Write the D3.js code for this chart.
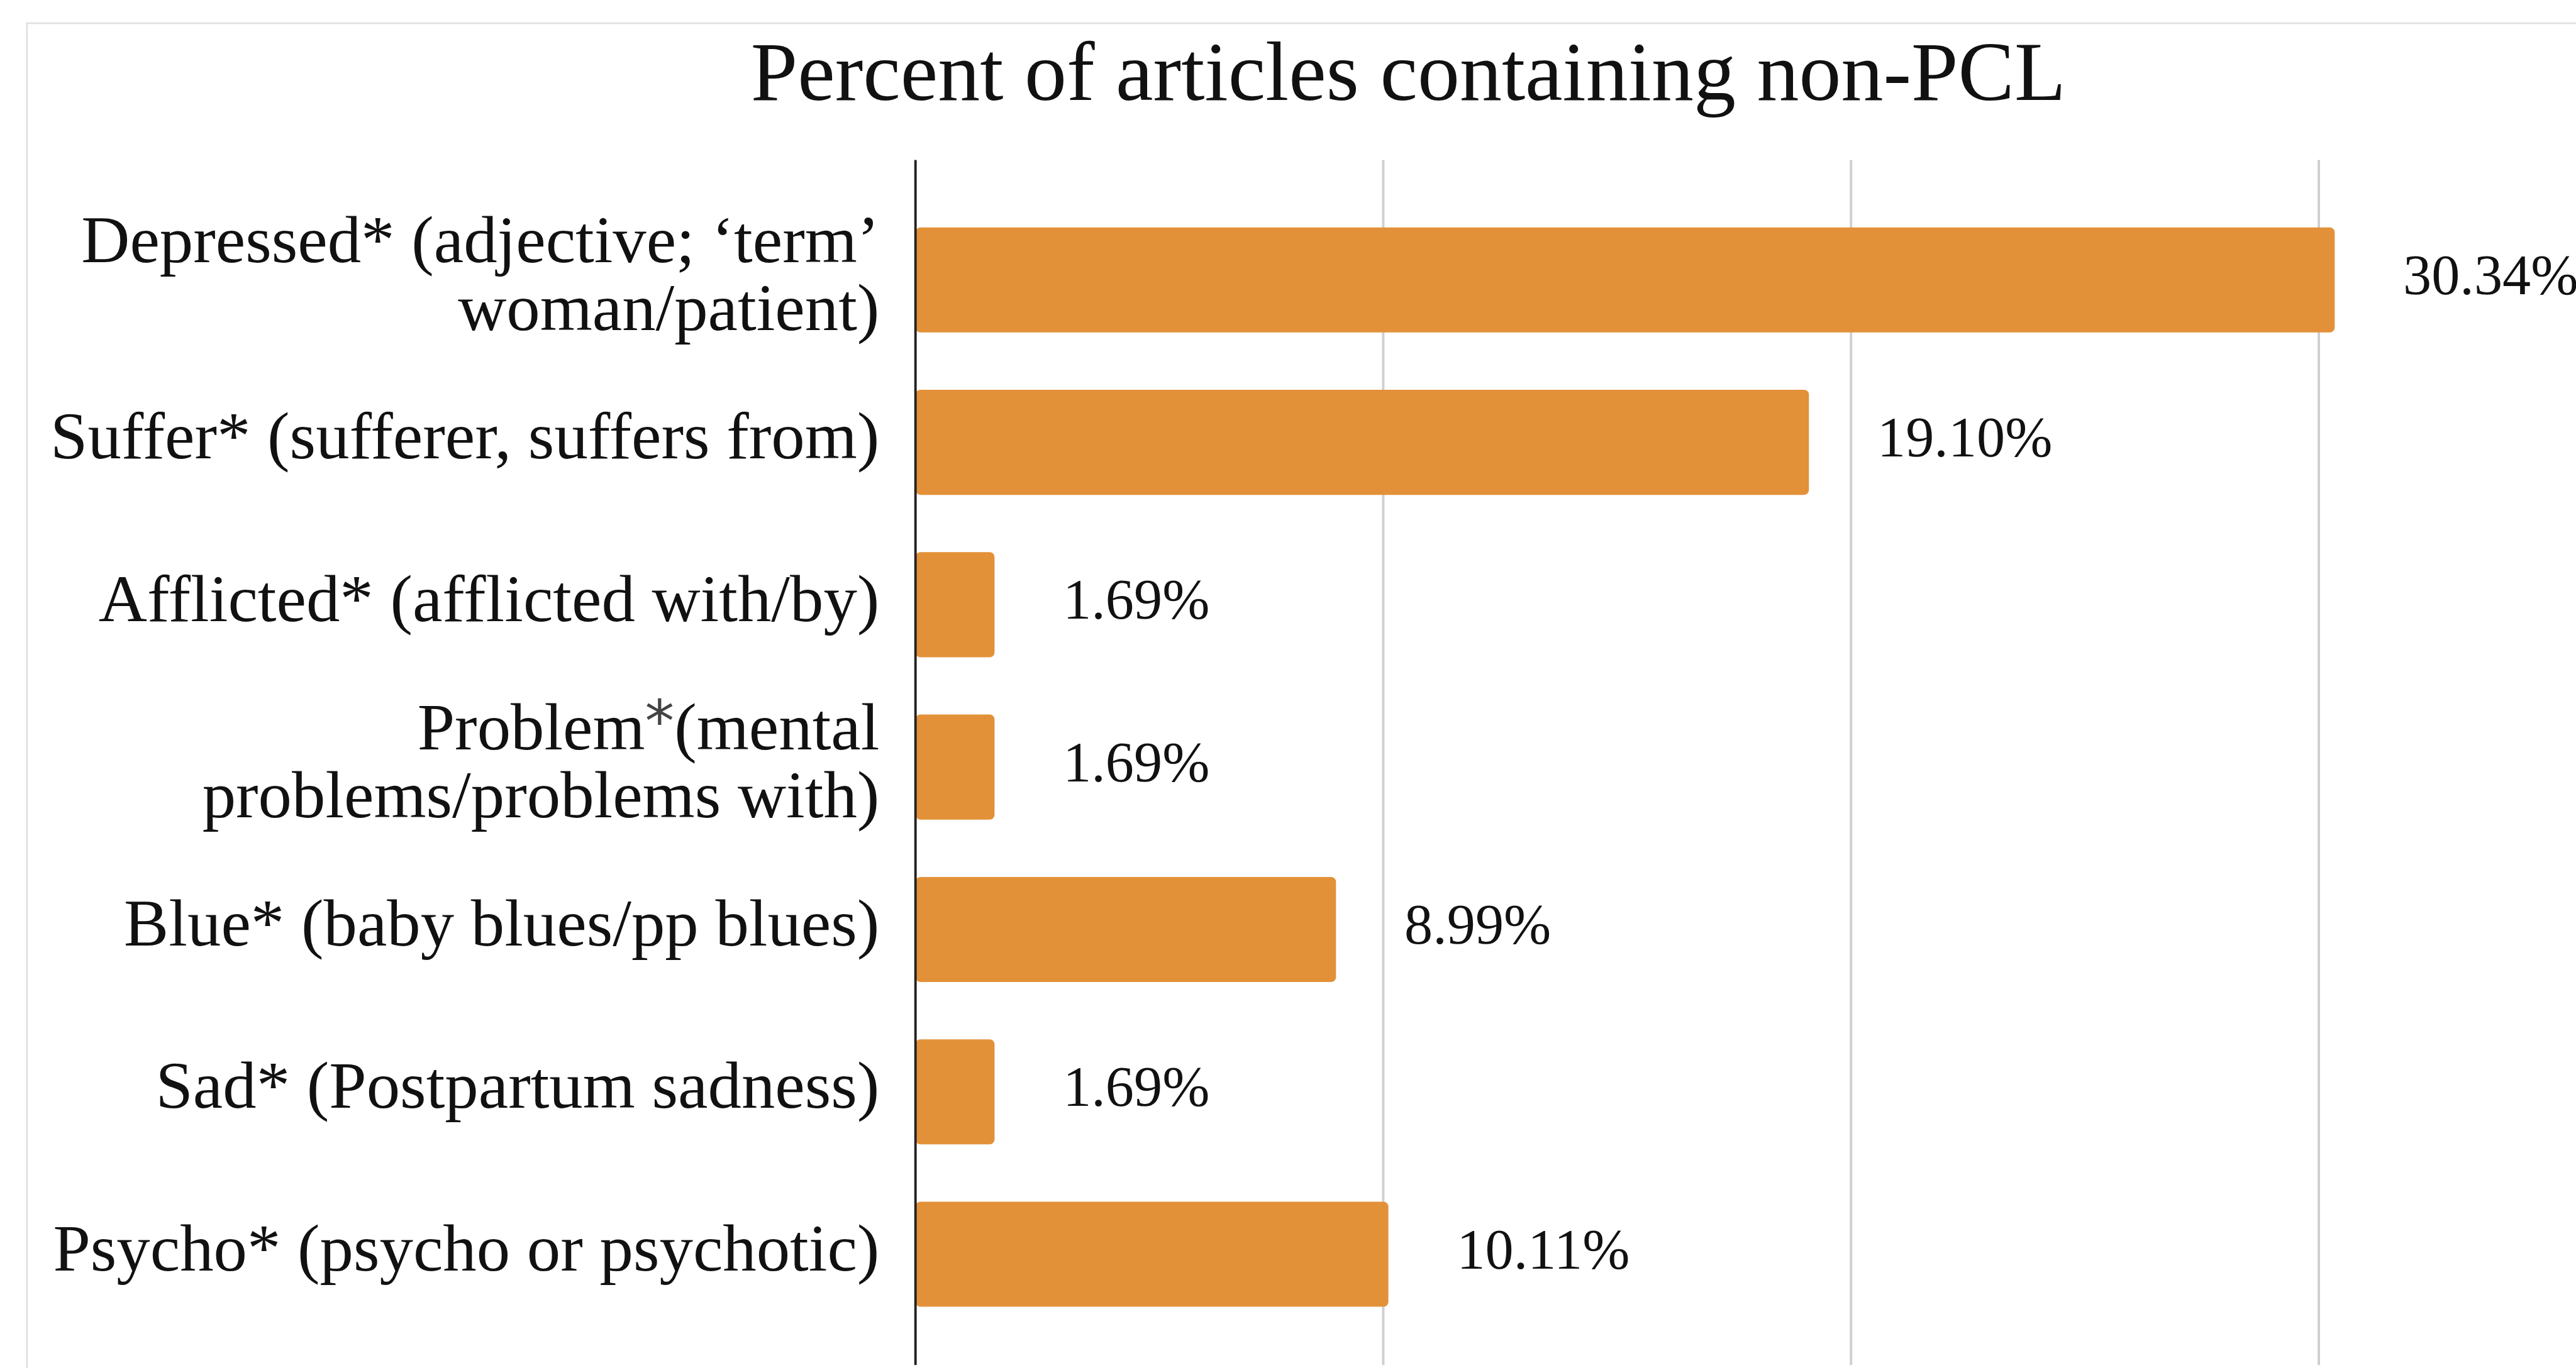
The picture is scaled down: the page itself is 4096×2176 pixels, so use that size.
<!DOCTYPE html>
<html>
<head>
<meta charset="utf-8">
<script src="https://cdn.jsdelivr.net/npm/d3@7"></script>
<style>
  html, body { margin:0; padding:0; background:#fff; overflow:hidden; }
  text { font-family: "Liberation Serif", "Times New Roman", serif; fill:#111; }
</style>
</head>
<body>
<div id="plot"></div>
<script>
// chart data
var title = 'Percent of articles containing non-PCL';
var categories = ['Depressed', 'Suffer', 'Afflicted', 'Problem', 'Blue', 'Sad', 'Psycho'];
var labelLines = [
  ['Depressed* (adjective; \u2018term\u2019', 'woman/patient)'],
  ['Suffer* (sufferer, suffers from)'],
  ['Afflicted* (afflicted with/by)'],
  ['Problem|*|(mental', 'problems/problems with)'],
  ['Blue* (baby blues/pp blues)'],
  ['Sad* (Postpartum sadness)'],
  ['Psycho* (psycho or psychotic)']
];
var values = [30.34, 19.10, 1.69, 1.69, 8.99, 1.69, 10.11];
var gridTicks = [10, 20, 30, 40];

// drawing set up in reference pixels, scaled by viewBox to the window
var W = 4218, H = 2241;
var svg = d3.select('#plot')
  .append('svg')
  .attr('width', 4096)
  .attr('height', 2176)
  .attr('viewBox', '0 0 ' + W + ' ' + H);

svg.append('rect').attr('width', W).attr('height', H).attr('fill', '#fff');

// chart frame (only left and top edges are visible)
svg.append('rect')
  .attr('x', 44).attr('y', 38)
  .attr('width', W).attr('height', H)
  .attr('fill', 'none')
  .attr('stroke', '#e2e2e2')
  .attr('stroke-width', 3);

var x = d3.scaleLinear().domain([0, 40]).range([1499, 1499 + 40 * 76.6]);
var y = d3.scaleBand().domain(categories).range([325.6, 2187.6]).paddingInner(0.353).paddingOuter(0.1765);

var plotTop = 262, plotBottom = 2236;

// gridlines
svg.append('g').selectAll('line')
  .data(gridTicks)
  .enter().append('line')
  .attr('x1', function(d){ return x(d); })
  .attr('x2', function(d){ return x(d); })
  .attr('y1', plotTop).attr('y2', plotBottom)
  .attr('stroke', '#cfcfcf')
  .attr('stroke-width', 4);

// bars
svg.append('g').selectAll('rect')
  .data(values)
  .enter().append('rect')
  .attr('x', x(0))
  .attr('y', function(d, i){ return y(categories[i]); })
  .attr('width', function(d){ return x(d) - x(0); })
  .attr('height', y.bandwidth())
  .attr('rx', 8)
  .attr('fill', '#e39139');

// category axis line
svg.append('line')
  .attr('x1', x(0)).attr('x2', x(0))
  .attr('y1', plotTop).attr('y2', plotBottom)
  .attr('stroke', '#222')
  .attr('stroke-width', 4);

// value labels
svg.append('g').selectAll('text')
  .data(values)
  .enter().append('text')
  .attr('x', function(d){ return x(d) + 112; })
  .attr('y', function(d, i){ return y(categories[i]) + y.bandwidth() / 2; })
  .attr('dy', '0.25em')
  .style('font-size', '93px')
  .text(function(d){ return d.toFixed(2) + '%'; });

// category labels
var lineGap = 111;
labelLines.forEach(function(lines, i){
  var cy = y(categories[i]) + y.bandwidth() / 2;
  var t = svg.append('text')
    .attr('text-anchor', 'end')
    .style('font-size', '110px');
  lines.forEach(function(line, j){
    var ly = cy + 26.5 + (j - (lines.length - 1) / 2) * lineGap;
    if (line.indexOf('|') >= 0) {
      // superscript asterisk drawn in a sans face like the original
      var parts = line.split('|');
      t.append('tspan').attr('x', 1440).attr('y', ly).text(parts[0]);
      t.append('tspan')
        .attr('dy', -12)
        .style('font-family', '"DejaVu Sans", sans-serif')
        .style('font-size', '96px')
        .style('fill', '#444')
        .text(parts[1]);
      t.append('tspan').attr('dy', 12).text(parts[2]);
    } else {
      t.append('tspan').attr('x', 1440).attr('y', ly).text(line);
    }
  });
});

// title
svg.append('text')
  .attr('x', 2306)
  .attr('y', 164)
  .attr('text-anchor', 'middle')
  .style('font-size', '138px')
  .text(title);
</script>
</body>
</html>
